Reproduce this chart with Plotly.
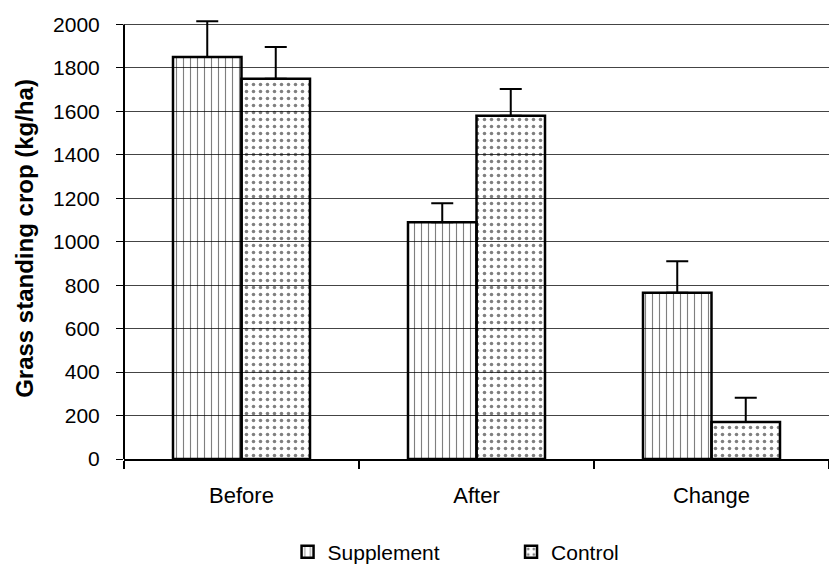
import plotly.graph_objects as go

categories = ["Before", "After", "Change"]
supplement = [1850, 1090, 765]
supplement_err = [165, 87, 145]
control = [1750, 1580, 170]
control_err = [147, 123, 112]
y_ticks = [0, 200, 400, 600, 800, 1000, 1200, 1400, 1600, 1800, 2000]

FONT = "Liberation Sans, Arial, sans-serif"

fig = go.Figure()
fig.add_trace(go.Bar(
    name="Supplement", x=categories, y=supplement, legend="legend",
    marker=dict(color="white", line=dict(color="black", width=2.5),
                pattern=dict(shape="|", size=7, solidity=0.16, fgcolor="black", bgcolor="rgba(255,255,255,0)")),
    error_y=dict(type="data", array=supplement_err, arrayminus=[0, 0, 0], symmetric=False,
                 color="black", thickness=2, width=11),
))
fig.add_trace(go.Bar(
    name="Control", x=categories, y=control, legend="legend2",
    marker=dict(color="white", line=dict(color="black", width=2.5),
                pattern=dict(shape=".", size=7, solidity=0.2, fgcolor="black", bgcolor="rgba(255,255,255,0)")),
    error_y=dict(type="data", array=control_err, arrayminus=[0, 0, 0], symmetric=False,
                 color="black", thickness=2, width=11),
))

legend_common = dict(orientation="h", xanchor="left", y=-0.211, yanchor="middle",
                     font=dict(size=21), itemwidth=30, bgcolor="rgba(0,0,0,0)")

fig.update_layout(
    width=829, height=573,
    margin=dict(l=124, r=0, t=18, b=109),
    paper_bgcolor="white", plot_bgcolor="white",
    barmode="group", bargap=0.417, bargroupgap=0,
    font=dict(family=FONT, size=20, color="black"),
    showlegend=True,
    legend=dict(x=0.232, **legend_common),
    legend2=dict(x=0.549, **legend_common),
    xaxis=dict(showline=True, linecolor="black", linewidth=2, ticks="outside",
               tickson="boundaries", ticklen=8, tickcolor="black", tickwidth=1.5,
               tickfont=dict(size=22), ticklabelstandoff=16, showgrid=False),
    yaxis=dict(range=[0, 2030], tickvals=y_ticks, showline=False,
               ticks="outside", ticklen=7, tickcolor="black", tickwidth=1,
               showgrid=True, gridcolor="#444", gridwidth=1, zeroline=False,
               tickfont=dict(size=21), ticklabelstandoff=12,
               title=dict(text="<b>Grass standing crop (kg/ha)</b>", font=dict(size=24), standoff=12)),
    shapes=[dict(type="line", xref="paper", yref="y", x0=0, x1=0, y0=0, y1=2000,
                 line=dict(color="black", width=2))],
)

fig.write_html("out.html", config={"displayModeBar": False},
               post_script="document.body.style.margin='0';document.body.style.overflow='hidden';")
